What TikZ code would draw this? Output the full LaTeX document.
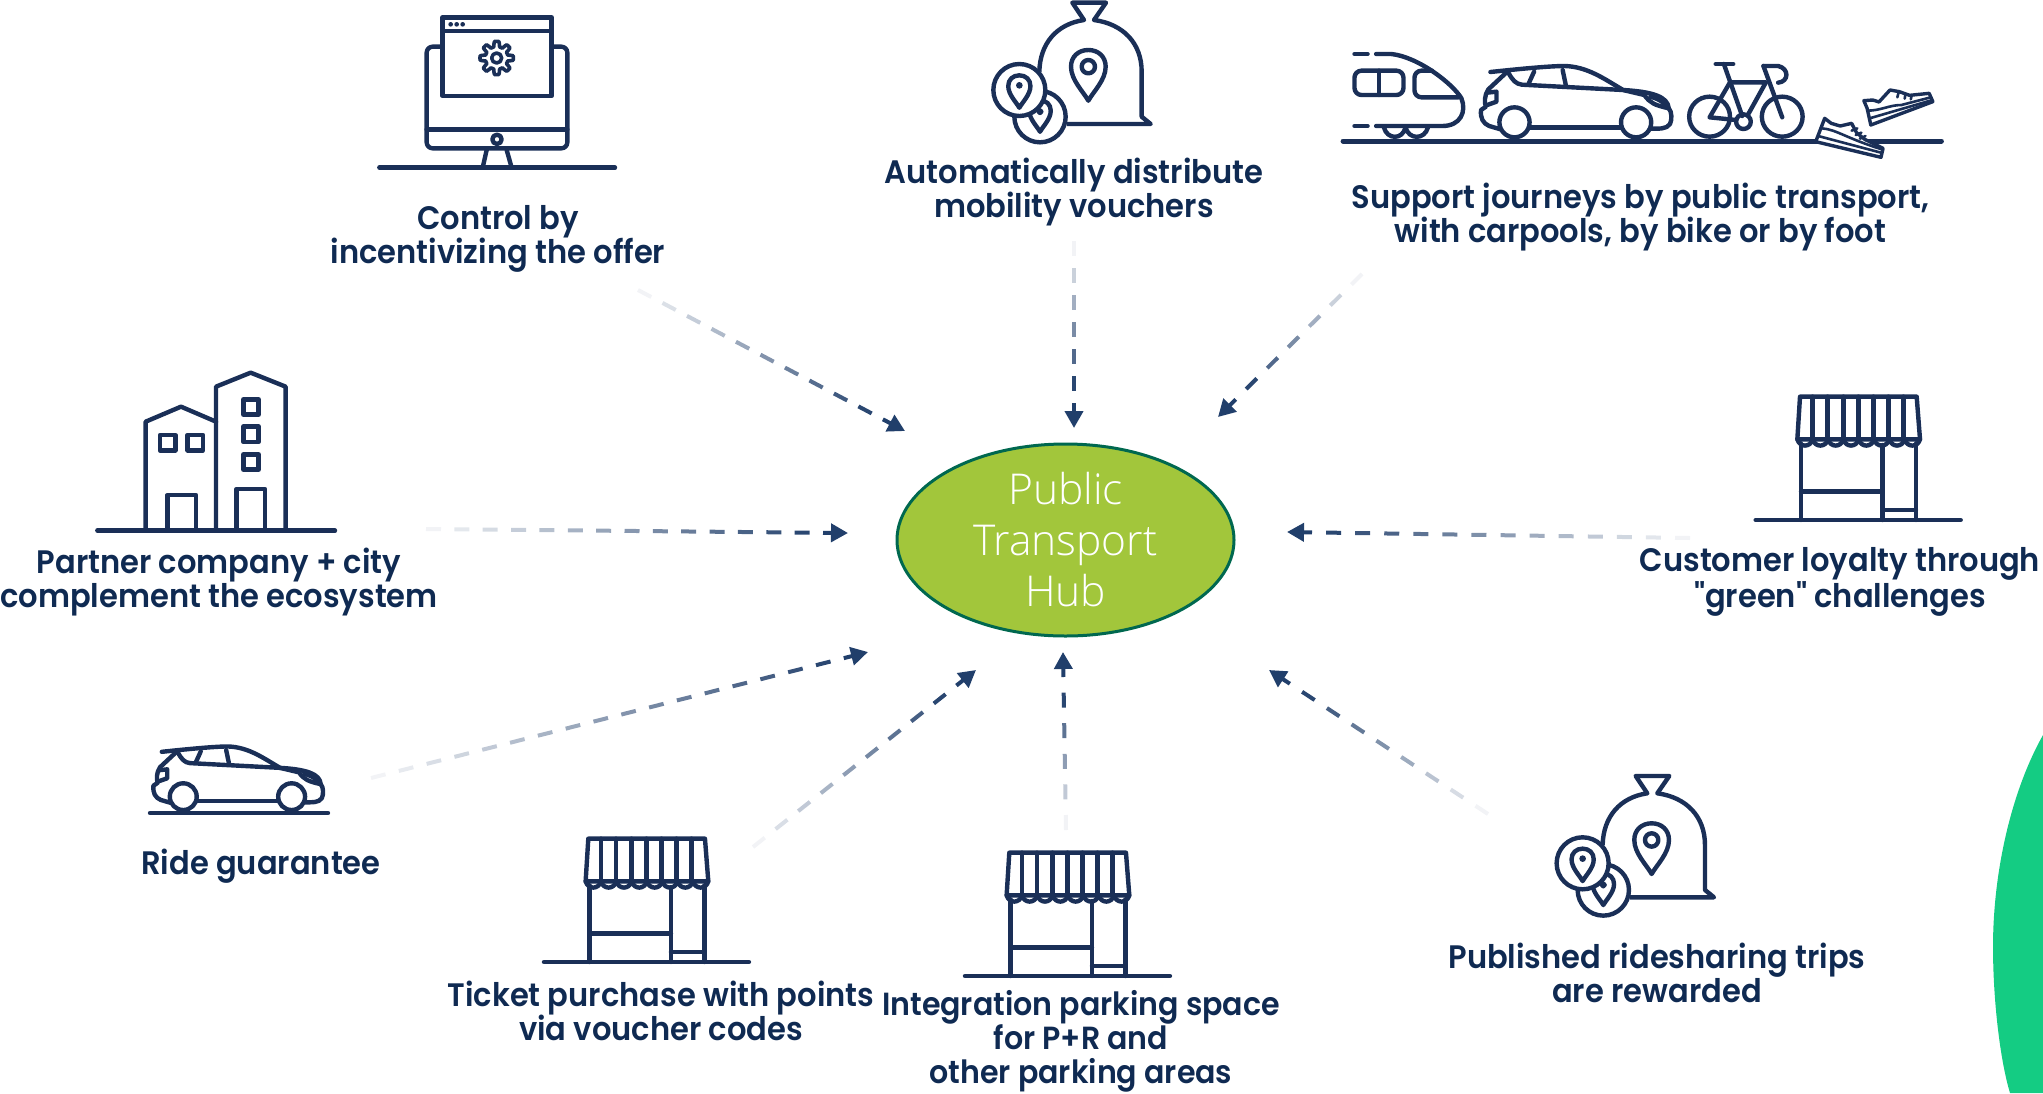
\documentclass[tikz,border=0pt]{standalone}
\usepackage{fontspec}
\usetikzlibrary{calc,arrows.meta,shapes.geometric}
\newfontfamily\lab[FakeStretch=0.94]{Poppins SemiBold}
\newfontfamily\hubfont{Open Sans Light}
\definecolor{navy}{HTML}{1A2F57}
\definecolor{txt}{HTML}{0F2A52}
\definecolor{arrowc}{HTML}{213F6B}
\definecolor{hubfill}{HTML}{A2C63B}
\definecolor{hubline}{HTML}{00684F}
\definecolor{blob}{HTML}{14CC83}
\tikzset{
  icon/.style={draw=navy,line width=4.4pt,line join=round,line cap=round},
  label/.style={text=txt,align=center,inner sep=0pt,font=\lab\fontsize{32.5}{34.5}\selectfont},
  dashseg/.style={line width=4pt},
  hubnode/.style={ellipse,draw=hubline,line width=3pt,fill=hubfill,text=white,align=center,inner sep=0pt,
    minimum width=337pt,minimum height=192pt,font=\hubfont\fontsize{42.5}{51}\selectfont},
}
\newcommand{\fadearrow}[2]{%
  \path let \p1=($(#2)-(#1)$),\n1={veclen(\x1,\y1)} in \pgfextra{\xdef\fadelen{\n1}};
  \pgfmathsetmacro\fadeN{int(round((\fadelen-25)/29))}
  \pgfmathsetmacro\fadeP{(\fadelen-25)/\fadeN}
  \pgfmathsetmacro\fadeM{int(\fadeN-1)}
  \foreach \i in {0,...,\fadeM}{
    \pgfmathsetmacro\ta{\i*\fadeP/\fadelen}
    \pgfmathsetmacro\tb{(\i*\fadeP+15)/\fadelen}
    \pgfmathsetmacro\pct{int(6+90*\i/\fadeM)}
    \draw[dashseg,draw=arrowc!\pct!white] ($(#1)!\ta!(#2)$) -- ($(#1)!\tb!(#2)$);
  }
  \pgfmathsetmacro\tc{(\fadelen-25)/\fadelen}
  \draw[draw=arrowc,line width=4pt,-{Triangle[length=17pt,width=18pt]}] ($(#1)!\tc!(#2)$) -- (#2);
}
% pin outline centred on head (0,0), radius 52, tip at (0,102)
\newcommand{\pinpath}{(0,102) .. controls (-15,75) and (-52,40) .. (-52,0) .. controls (-52,-30) and (-30,-50) .. (0,-50) .. controls (30,-50) and (52,-30) .. (52,0) .. controls (52,40) and (15,75) .. (0,102) -- cycle}
\newcommand{\bagicon}[2]{%
\begin{scope}[shift={(#1,#2)},xscale=1/3,yscale=1/3]
  \draw[icon,line cap=butt] (238,215) .. controls (240,130) and (290,72) .. (372,60) -- (337,8) -- (438,8) -- (402,60)
     .. controls (490,72) and (545,130) .. (545,215) -- (545,350) -- (572,372) -- (320,372);
  \begin{scope}[shift={(385,200)}]
    \draw[icon] \pinpath;
    \draw[icon] (0,0) circle[radius=20];
  \end{scope}
  \draw[icon,fill=white] (240,350) circle[radius=77];
  \begin{scope}[shift={(240,332)},scale=0.62]
    \draw[icon] \pinpath;
  \end{scope}
  \draw[icon,fill=navy] (240,335) circle[radius=4];
  \draw[icon,fill=white] (178,270) circle[radius=78];
  \begin{scope}[shift={(178,258)},scale=0.64]
    \draw[icon] \pinpath;
  \end{scope}
  \fill[navy] (178,256) circle[radius=10];
\end{scope}}
\newcommand{\shopicon}[2]{%
\begin{scope}[shift={(#1,#2)},xscale=1/3,yscale=1/3]
  \draw[icon] (47,420) -- (662,420);
  \draw[icon] (183,190) -- (183,420);
  \draw[icon] (528,190) -- (528,420);
  \draw[icon] (428,195) -- (428,420);
  \draw[icon] (183,335) -- (428,335);
  \draw[icon] (428,390) -- (528,390);
  \draw[icon] (172,178) -- (180,50) -- (530,50) -- (540,178) -- cycle;
  \foreach \x in {218,263,310,355,400,445,490}{\draw[icon] (\x,50) -- (\x,178);}
  \foreach \i in {0,...,7}{
    \pgfmathsetmacro\xa{172+46*\i}
    \pgfmathsetmacro\xb{\xa+7}
    \pgfmathsetmacro\xc{\xa+39}
    \pgfmathsetmacro\xd{\xa+46}
    \draw[icon] (\xa,178) .. controls (\xb,203) and (\xc,203) .. (\xd,178);
  }
\end{scope}}
% car drawn in the coordinates of the 2.45x/3x crop; #1,#2 origin, #3 scale
\newcommand{\caricon}[3]{%
\begin{scope}[shift={(#1,#2)},xscale=#3/2.45,yscale=#3/3]
  \draw[icon] (393,96) .. controls (470,86) and (540,78) .. (575,78) .. controls (630,80) and (670,115) .. (718,150)
     .. controls (790,155) and (828,170) .. (830,205) .. controls (838,215) and (838,240) .. (833,252) .. controls (825,268) and (805,266) .. (785,266);
  \draw[icon] (490,262) -- (712,262);
  \draw[icon] (430,100) -- (388,148) .. controls (378,165) and (378,190) .. (382,200) -- (370,210) .. controls (368,235) and (375,250) .. (390,258) -- (418,268);
  \draw[icon] (385,158) -- (408,155) -- (408,185) -- (385,195);
  \draw[icon] (437,98) .. controls (447,120) and (455,132) .. (470,134) -- (718,150) -- (770,165) .. controls (785,190) and (795,195) .. (830,205);
  \draw[icon] (500,95) -- (487,130);
  \draw[icon] (570,90) -- (578,137);
  \draw[icon] (785,170) .. controls (800,175) and (815,183) .. (820,195);
  \draw[icon,fill=white] (452,247) circle[x radius=37,y radius=45];
  \draw[icon,fill=white] (750,247) circle[x radius=37,y radius=45];
\end{scope}}
\begin{document}
\begin{tikzpicture}[x=1pt,y=-1pt]
\useasboundingbox (0,0) rectangle (2043,1093);
% green corner shape
\fill[blob] (2043,735) .. controls (2012,790) and (1993,870) .. (1993,947) .. controls (1993,1000) and (2000,1060) .. (2010,1093) -- (2043,1093) -- cycle;

% monitor
\begin{scope}[shift={(360,0)},xscale=1/3,yscale=1/3]
  \draw[icon] (58,503) -- (765,503);
  \draw[icon,rounded corners=6pt] (245,140) -- (200,140) -- (200,445) -- (622,445) -- (622,140) -- (578,140);
  \draw[icon] (200,388) -- (622,388);
  \draw[icon] (380,450) -- (368,503);
  \draw[icon] (440,450) -- (455,503);
  \draw[icon] (411,418) circle[radius=14];
  \draw[icon] (248,52) rectangle (575,288);
  \draw[icon] (248,93) -- (575,93);
  \foreach \x in {272,290,308}{\fill[navy] (\x,73) circle[radius=7];}
  \draw[icon,line width=3.6pt] plot[samples=145,domain=0:360] ({410+(42+8*max(-1,min(1,2.2*cos(8*\x))))*cos(\x)},{174+(42+8*max(-1,min(1,2.2*cos(8*\x))))*sin(\x)}) -- cycle;
  \draw[icon,line width=3.6pt] (410,174) circle[radius=15];
\end{scope}

% bags
\bagicon{960}{0}
\bagicon{1523.3}{773.3}

% transport scene
\begin{scope}[shift={(1330,40)},xscale=1/2.45,yscale=1/3]
  \draw[icon,line width=5pt] (32,303) -- (1498,303);
  \draw[icon] (60,42) -- (92,42);
  \draw[icon] (113,42) -- (150,42) .. controls (215,50) and (300,130) .. (322,175) .. controls (335,215) and (320,258) .. (275,258) -- (113,258);
  \draw[icon] (60,258) -- (92,258);
  \draw[icon,rounded corners=7pt] (60,92) rectangle (180,165);
  \draw[icon] (120,92) -- (120,165);
  \draw[icon,rounded corners=7pt] (250,92) -- (207,92) -- (207,172) -- (315,172);
  \draw[icon] (132,262) .. controls (140,300) and (178,300) .. (185,262);
  \draw[icon] (185,262) .. controls (193,300) and (232,300) .. (240,262);
\end{scope}
\caricon{1330}{40}{1}
\begin{scope}[shift={(1330,40)},xscale=1/2.45,yscale=1/3]
  % bicycle
  \draw[icon] (930,230) circle[x radius=50,y radius=60];
  \draw[icon] (1108,230) circle[x radius=50,y radius=60];
  \draw[icon] (1013,245) circle[x radius=18,y radius=22];
  \draw[icon] (945,72) -- (988,72);
  \draw[icon] (965,72) -- (1010,228);
  \draw[icon] (980,127) -- (1068,127) -- (1025,222);
  \draw[icon] (980,127) -- (930,232) -- (995,240);
  \draw[icon] (1062,78) -- (1108,232);
  \draw[icon] (1062,78) -- (1098,78) .. controls (1125,85) and (1125,125) .. (1098,128);
  % shoes
  \draw[icon,fill=white,line width=3.4pt] (1308,182) -- (1330,180) -- (1345,186) -- (1372,150) -- (1395,155) -- (1420,166) -- (1468,160) -- (1477,185) -- (1325,255) -- (1316,205) -- cycle;
  \draw[icon,line width=2.6pt] (1316,212) .. controls (1350,212) and (1370,195) .. (1400,195) -- (1472,172);
  \draw[icon,line width=2.6pt] (1322,235) -- (1476,180);
  \draw[icon,line width=2.6pt] (1393,158) -- (1390,172);
  \draw[icon,line width=2.6pt] (1410,162) -- (1408,176);
  \draw[icon,line width=2.6pt] (1425,166) -- (1423,178);
  \draw[icon,fill=white,line width=3.4pt] (1212,235) -- (1190,305) -- (1350,352) -- (1355,325) -- (1310,298) -- (1290,278) -- (1278,250) -- (1250,258) -- (1228,250) -- cycle;
  \draw[icon,line width=2.6pt] (1205,265) .. controls (1240,268) and (1265,295) .. (1352,328);
  \draw[icon,line width=2.6pt] (1196,288) -- (1350,338);
  \draw[icon,line width=2.6pt] (1278,272) -- (1292,265);
  \draw[icon,line width=2.6pt] (1288,285) -- (1302,278);
  \draw[icon,line width=2.6pt] (1298,296) -- (1312,288);
\end{scope}

% buildings
\begin{scope}[shift={(80,360)},xscale=1/3,yscale=1/3]
  \draw[icon] (52,512) -- (765,512);
  \draw[icon] (197,512) -- (197,185) -- (303,140) -- (408,185);
  \draw[icon] (408,512) -- (408,80) -- (512,38) -- (617,80) -- (617,512);
  \draw[icon] (262,512) -- (262,405) -- (348,405) -- (348,512);
  \draw[icon] (470,512) -- (470,387) -- (555,387) -- (555,512);
  \foreach \x/\y in {240/225,323/225,490/118,490/200,490/283}{
    \draw[icon] (\x,\y) rectangle ++(46,46);
  }
\end{scope}

% shops and small car
\shopicon{1740}{380}
\shopicon{528.3}{822}
\shopicon{949.3}{836}
\draw[icon] (150,813) -- (328,813);
\caricon{18.9}{723.3}{0.891}

% hub
\node[hubnode] (hub) at (1065.5,540) {Public\\Transport\\Hub};

% labels
\node[label] (lcontrol) at (498,239) {Control by\\incentivizing the offer};
\node[label] (lvoucher) at (1074,192) {Automatically distribute\\mobility vouchers};
\node[label] (ljourney) at (1640.5,217) {Support journeys by public transport,\\with carpools, by bike or by foot};
\node[label] (lpartner) at (219,582) {Partner company + city\\complement the ecosystem};
\node[label] (lcustomer) at (1840,582) {Customer loyalty through\\"green" challenges};
\node[label] (lride) at (261,866) {Ride guarantee};
\node[label] (lticket) at (661,1011) {Ticket purchase with points\\via voucher codes};
\node[label,font=\lab\fontsize{32}{34}\selectfont] (lparking) at (1081,1041) {Integration parking space\\for P+R and\\other parking areas};
\node[label] (lpublished) at (1657,973) {Published ridesharing trips\\are rewarded};

% connectors
\coordinate (s1) at (638,290); \coordinate (e1) at (905,431);
\coordinate (s2) at (1074,241); \coordinate (e2) at (1074,428);
\coordinate (s3) at (1362,274); \coordinate (e3) at (1218,417);
\coordinate (s4) at (426,529); \coordinate (e4) at (848,533);
\coordinate (s5) at (1690,538); \coordinate (e5) at (1287,532);
\coordinate (s6) at (371,778); \coordinate (e6) at (868,652);
\coordinate (s7) at (753,847); \coordinate (e7) at (976,670);
\coordinate (s8) at (1066,830); \coordinate (e8) at (1063,652);
\coordinate (s9) at (1488,814); \coordinate (e9) at (1269,670);
\fadearrow{s1}{e1}
\fadearrow{s2}{e2}
\fadearrow{s3}{e3}
\fadearrow{s4}{e4}
\fadearrow{s5}{e5}
\fadearrow{s6}{e6}
\fadearrow{s7}{e7}
\fadearrow{s8}{e8}
\fadearrow{s9}{e9}
\end{tikzpicture}
\end{document}
